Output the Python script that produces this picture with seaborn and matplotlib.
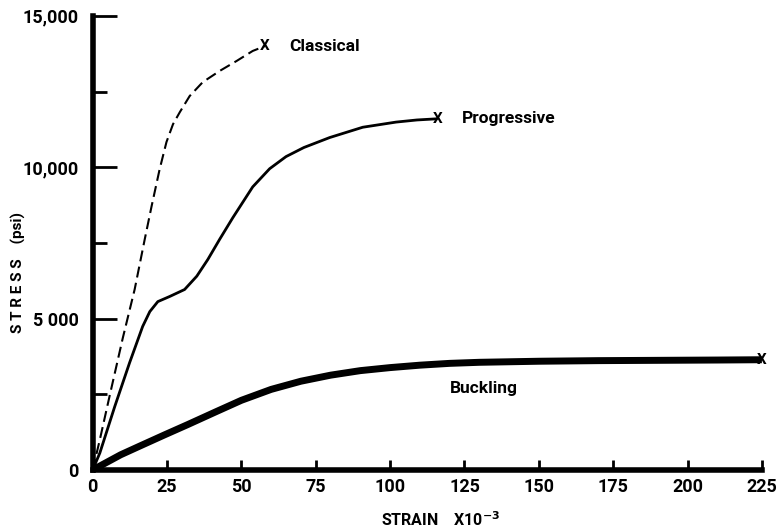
import matplotlib
matplotlib.use('Agg')
import matplotlib.pyplot as plt
import seaborn as sns
import pandas as pd

# values (strain x10^-3, stress psi)
classical_strain = [0, 2.4, 5.7, 10.1, 14.1, 17.5, 19.8, 22.5, 24.8, 27, 29.3, 32.6, 37, 42.7, 48.4, 53.8, 57.9]
classical_stress = [0, 1000, 2450, 4350, 5960, 7620, 8710, 9930, 10830, 11420, 11820, 12350, 12810, 13180, 13510, 13840, 14000]

progressive_strain = [0, 2.4, 7.4, 12.4, 16.8, 19.2, 21.9, 25.9, 30.9, 35, 38.7, 42.7, 47.1, 53.8, 59.5,
                      65, 71, 79.7, 90.8, 102, 109, 116]
progressive_stress = [0, 560, 2090, 3540, 4740, 5230, 5560, 5730, 5960, 6400, 6950, 7620, 8330, 9350, 9950,
                      10350, 10650, 10980, 11320, 11490, 11560, 11600]

buckling_strain = [0, 9.4, 16.1, 24.2, 32, 41.4, 50, 60, 70, 80, 90, 100, 110, 120, 130, 150, 170, 190, 210, 225]
buckling_stress = [0, 500, 800, 1160, 1500, 1920, 2300, 2660, 2930, 3130, 3280, 3380, 3460, 3520, 3555, 3590,
                   3610, 3620, 3630, 3640]

x_ticks = [0, 25, 50, 75, 100, 125, 150, 175, 200, 225]
y_ticks = [0, 5000, 10000, 15000]
y_tick_labels = ['0', '5 000', '10,000', '15,000']
y_minor = [2500, 7500, 12500]

sns.set_theme(style='white')
plt.rcParams['font.family'] = ['Roboto', 'DejaVu Sans']
plt.rcParams['font.weight'] = 'bold'
plt.rcParams['text.color'] = 'black'
plt.rcParams['axes.labelcolor'] = 'black'
plt.rcParams['xtick.color'] = 'black'
plt.rcParams['ytick.color'] = 'black'

df_c = pd.DataFrame({'strain': classical_strain, 'stress': classical_stress})
df_p = pd.DataFrame({'strain': progressive_strain, 'stress': progressive_stress})
df_b = pd.DataFrame({'strain': buckling_strain, 'stress': buckling_stress})

fig = plt.figure(figsize=(7.79, 5.28), dpi=100)
ax = fig.add_axes([0.119, 0.110, 0.859, 0.860])

sns.lineplot(data=df_c, x='strain', y='stress', ax=ax, color='black', linewidth=1.5,
             sort=False, estimator=None)
ax.lines[-1].set_dashes([5.3, 2.6])
sns.lineplot(data=df_p, x='strain', y='stress', ax=ax, color='black', linewidth=2,
             sort=False, estimator=None)
sns.lineplot(data=df_b, x='strain', y='stress', ax=ax, color='black', linewidth=5,
             sort=False, estimator=None)
for ln in ax.lines:
    ln.set_clip_on(False)
    ln.set_solid_capstyle('butt')
    ln.set_solid_joinstyle('round')

# end markers and curve names
ax.text(classical_strain[-1], classical_stress[-1], 'X', fontsize=11, ha='center', va='center')
ax.text(66, 14000, 'Classical', fontsize=12.5, ha='left', va='center')
ax.text(progressive_strain[-1], progressive_stress[-1], 'X', fontsize=11, ha='center', va='center')
ax.text(124, 11600, 'Progressive', fontsize=12.5, ha='left', va='center')
ax.text(buckling_strain[-1], buckling_stress[-1], 'X', fontsize=11, ha='center', va='center', clip_on=False)
ax.text(120, 2700, 'Buckling', fontsize=12.5, ha='left', va='center')

ax.set_xlim(0, 225)
ax.set_ylim(0, 15000)
ax.set_xticks(x_ticks)
ax.set_xticklabels([str(t) for t in x_ticks], fontsize=13, fontweight='bold')
ax.set_yticks(y_ticks)
ax.set_yticklabels(y_tick_labels, fontsize=13, fontweight='bold')
ax.set_yticks(y_minor, minor=True)
ax.tick_params(axis='y', which='major', direction='in', length=17, width=2, pad=10)
ax.tick_params(axis='y', which='minor', direction='in', length=10, width=2)
ax.tick_params(axis='x', which='major', direction='in', length=7, width=2, pad=6)
ax.tick_params(left=True, bottom=True, which='both')

sns.despine(ax=ax)
ax.spines['left'].set_linewidth(4)
ax.spines['bottom'].set_linewidth(4)
ax.spines['left'].set_color('black')
ax.spines['bottom'].set_color('black')

ax.set_xlabel('STRAIN    X10$^{-3}$', fontsize=11.5, fontweight='bold')
ax.set_ylabel('S T R E S S    (psi)', fontsize=11, fontweight='bold')
ax.xaxis.set_label_coords(0.52, -0.088)
ax.yaxis.set_label_coords(-0.100, 0.434)
ax.grid(False)

fig.savefig('out.png', dpi=100)
